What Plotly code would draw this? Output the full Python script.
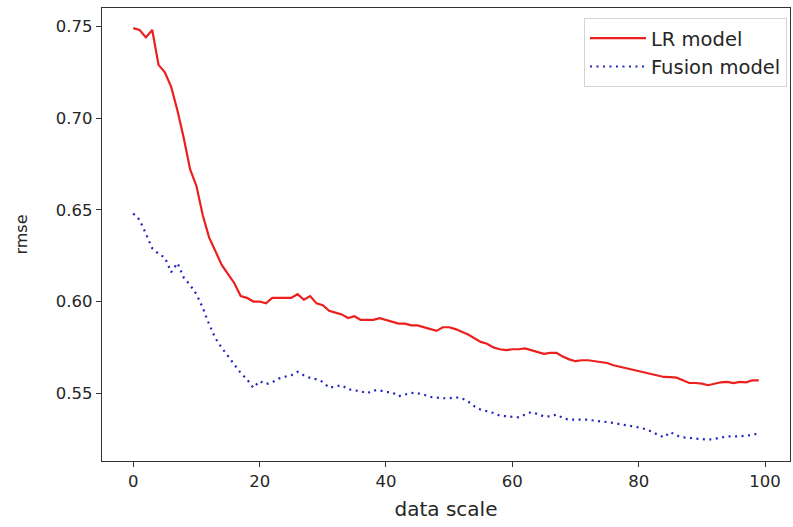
import plotly.graph_objects as go

x_scale = list(range(100))

lr_model = [
    0.749, 0.748, 0.744, 0.748, 0.729, 0.725, 0.717, 0.704, 0.689, 0.672,
    0.663, 0.647, 0.635, 0.627, 0.620, 0.615, 0.610, 0.603, 0.602, 0.600,
    0.600, 0.599, 0.602, 0.602, 0.602, 0.602, 0.604, 0.601, 0.603, 0.599,
    0.598, 0.595, 0.594, 0.593, 0.591, 0.592, 0.590, 0.590, 0.590, 0.591,
    0.590, 0.589, 0.588, 0.588, 0.587, 0.587, 0.586, 0.585, 0.584, 0.586,
    0.586, 0.585, 0.5835, 0.582, 0.580, 0.578, 0.577, 0.575, 0.574, 0.5735,
    0.574, 0.574, 0.5745, 0.5735, 0.5724, 0.5715, 0.572, 0.572, 0.570, 0.5685,
    0.5675, 0.568, 0.568, 0.5675, 0.567, 0.5665, 0.5653, 0.5645, 0.5638, 0.563,
    0.562, 0.5615, 0.5606, 0.5597, 0.5589, 0.5588, 0.5585, 0.5571, 0.5556, 0.5556,
    0.5553, 0.5544, 0.5553, 0.556, 0.5562, 0.5556, 0.5562, 0.556, 0.5571, 0.557,
]

fusion_model = [
    0.648, 0.6445, 0.637, 0.629, 0.626, 0.624, 0.616, 0.621, 0.613, 0.609,
    0.604, 0.5966, 0.5877, 0.580, 0.5748, 0.5702, 0.5658, 0.5611, 0.5576, 0.553,
    0.5566, 0.555, 0.556, 0.558, 0.559, 0.5598, 0.5617, 0.5598, 0.5584, 0.5576,
    0.5562, 0.553, 0.5538, 0.5544, 0.5522, 0.5516, 0.5511, 0.550, 0.5516, 0.5516,
    0.5507, 0.5505, 0.5484, 0.5493, 0.5502, 0.550, 0.5493, 0.548, 0.5475, 0.5473,
    0.5473, 0.5478, 0.5473, 0.5456, 0.5429, 0.5411, 0.5402, 0.5393, 0.5378, 0.5374,
    0.5369, 0.5369, 0.5384, 0.5398, 0.5387, 0.5374, 0.5374, 0.5384, 0.5365, 0.5356,
    0.5356, 0.5356, 0.5356, 0.5351, 0.5349, 0.5343, 0.5338, 0.5332, 0.5329, 0.5321,
    0.5314, 0.5305, 0.5292, 0.5274, 0.526, 0.5289, 0.527, 0.526, 0.5256, 0.5252,
    0.5247, 0.5247, 0.5252, 0.526, 0.5265, 0.5265, 0.5265, 0.527, 0.5272, 0.5283,
]

x_ticks = [0, 20, 40, 60, 80, 100]
y_ticks = [0.55, 0.60, 0.65, 0.70, 0.75]
y_tick_labels = ["0.55", "0.60", "0.65", "0.70", "0.75"]

fig = go.Figure()
fig.add_trace(go.Scatter(x=x_scale, y=lr_model, mode="lines", name="LR model",
                         line=dict(color="#ec1f1f", width=2.2)))
fig.add_trace(go.Scatter(x=x_scale, y=fusion_model, mode="lines", name="Fusion model",
                         line=dict(color="#2323c0", width=2.2, dash="2px,4.5px")))

axis_common = dict(showline=True, linecolor="#333333", linewidth=1.2, mirror=True,
                   ticks="outside", ticklen=5, tickcolor="#333333", showgrid=False,
                   zeroline=False, automargin=False,
                   tickfont=dict(size=16.5, color="#262626"))

fig.update_layout(
    width=793, height=527,
    margin=dict(l=102, r=3, t=8, b=66, autoexpand=False),
    paper_bgcolor="white", plot_bgcolor="white",
    font=dict(family="DejaVu Sans", size=17, color="#262626"),
    xaxis=dict(range=[-4.95, 103.95], tickvals=x_ticks,
               title=dict(text="data scale", font=dict(size=20), standoff=12), **axis_common),
    yaxis=dict(range=[0.5131, 0.7600], tickvals=y_ticks, ticktext=y_tick_labels,
               title=dict(text="rmse", font=dict(size=16), standoff=24), **axis_common),
    legend=dict(x=0.9956, y=0.978, xanchor="right", yanchor="top",
                bgcolor="white", bordercolor="#d4d4d4", borderwidth=1,
                itemwidth=56, tracegroupgap=0,
                font=dict(size=19.5, color="#262626")),
    showlegend=True,
)

fig.write_html("out.html",
               config={"displayModeBar": False},
               post_script="document.body.style.margin='0';document.body.style.overflow='hidden';")
